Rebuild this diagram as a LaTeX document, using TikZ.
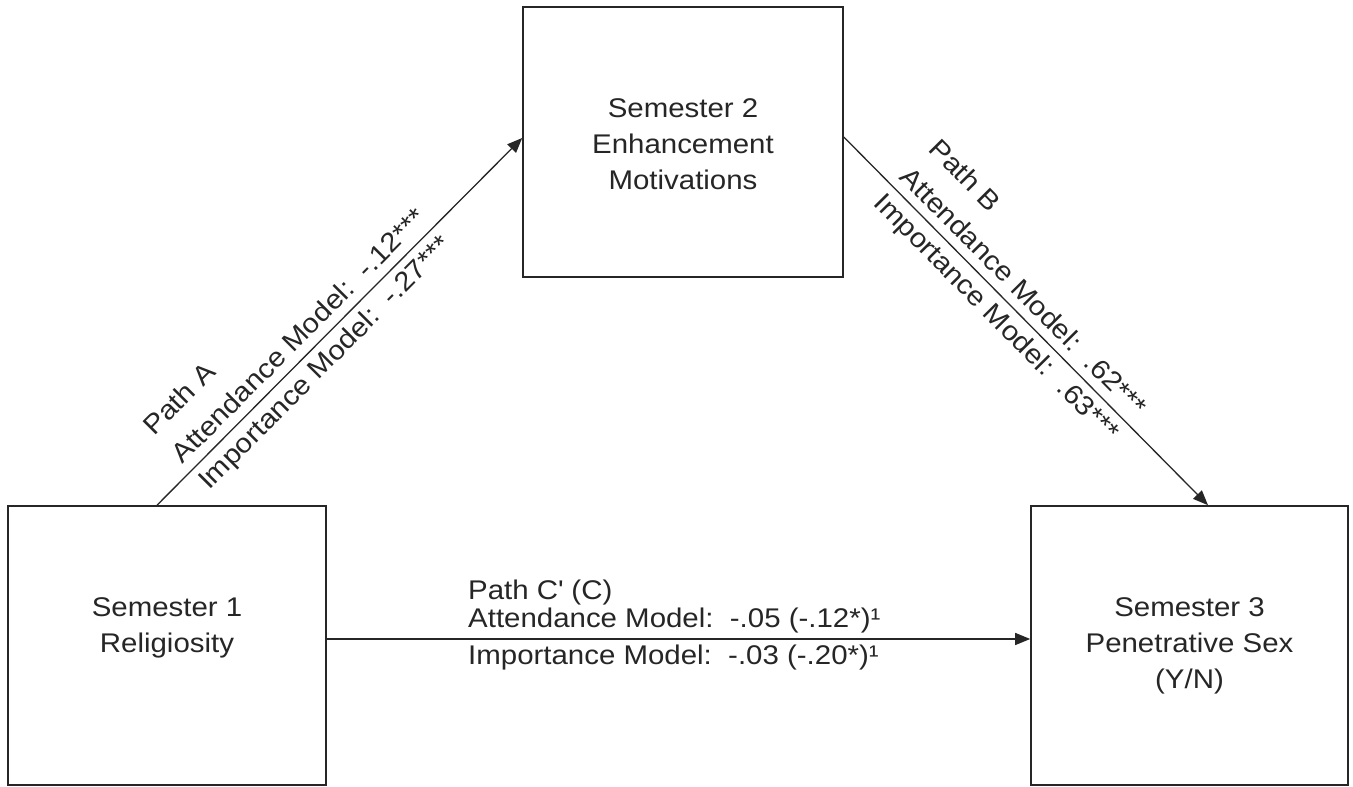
\documentclass[tikz,border=0pt]{standalone}
\usepackage{fontspec}
\setmainfont{Liberation Sans}[FakeStretch=1.09]
\usetikzlibrary{arrows.meta,calc}
\begin{document}
\begin{tikzpicture}[x=1pt,y=1pt,
  box/.style={draw=black!85, line width=1.6pt, inner sep=0pt, fill=white},
  boxtext/.style={align=center, inner sep=0pt, anchor=north, font=\fontsize{27}{36}\selectfont, text=black!85},
  lbl/.style={inner sep=0pt, anchor=base west, font=\fontsize{27}{30}\selectfont, text=black!85},
  conn/.style={draw=black!85, line width=1.3pt, -{Triangle[length=15pt,width=12pt]}}]
\useasboundingbox (0,0) rectangle (1353,787);
\fill[white] (0,0) rectangle (1353,787);
% boxes
\node[box, minimum width=318pt, minimum height=279pt] (b1) at (167,141.5) {};
\node[box, minimum width=320pt, minimum height=270pt] (b2) at (683,645) {};
\node[box, minimum width=317pt, minimum height=279pt] (b3) at (1189.5,141.5) {};
% box texts
\node[boxtext] (t1) at (167,189.7) {Semester 1\\Religiosity};
\node[boxtext] (t2) at (683,688.7) {Semester 2\\Enhancement\\Motivations};
\node[boxtext] (t3) at (1189.5,189.7) {Semester 3\\Penetrative Sex\\(Y/N)};
% connector end points
\coordinate (a1) at ([xshift=-10pt]b1.north);
\coordinate (a2) at ([yshift=4pt]b2.west);
\coordinate (bb1) at ([yshift=5pt]b2.east);
\coordinate (bb2) at ([xshift=18.5pt]b3.north);
\coordinate (c1) at ([yshift=6.5pt]b1.east);
\coordinate (c2) at (b3.west |- c1);
% connectors
\draw[conn] (a1) -- (a2);
\draw[conn] (bb1) -- (bb2);
\draw[conn] (c1) -- (c2);
% path A labels
\begin{scope}[shift={(a1)}, rotate=45.16, transform shape]
  \node[lbl] (pa) at (46.7,50) {Path A};
  \node[lbl] (pa1) at (46.7,10) {Attendance Model:\ \ -.12***};
  \node[lbl] (pa2) at (46.7,-27) {Importance Model:\ \ -.27***};
\end{scope}
% path B labels
\begin{scope}[shift={(bb1)}, rotate=-45.3, transform shape]
  \node[lbl] (pb) at (68,50) {Path B};
  \node[lbl] (pb1) at (68,10) {Attendance Model:\ \ .62***};
  \node[lbl] (pb2) at (68,-27) {Importance Model:\ \ .63***};
\end{scope}
% path C labels
\node[lbl] (pc) at (468,187) {Path C\textquotesingle\ (C)};
\node[lbl] (pc1) at (468,159) {Attendance Model:\ \ -.05 (-.12*)¹};
\node[lbl] (pc2) at (468,122) {Importance Model:\ \ -.03 (-.20*)¹};
\end{tikzpicture}
\end{document}
